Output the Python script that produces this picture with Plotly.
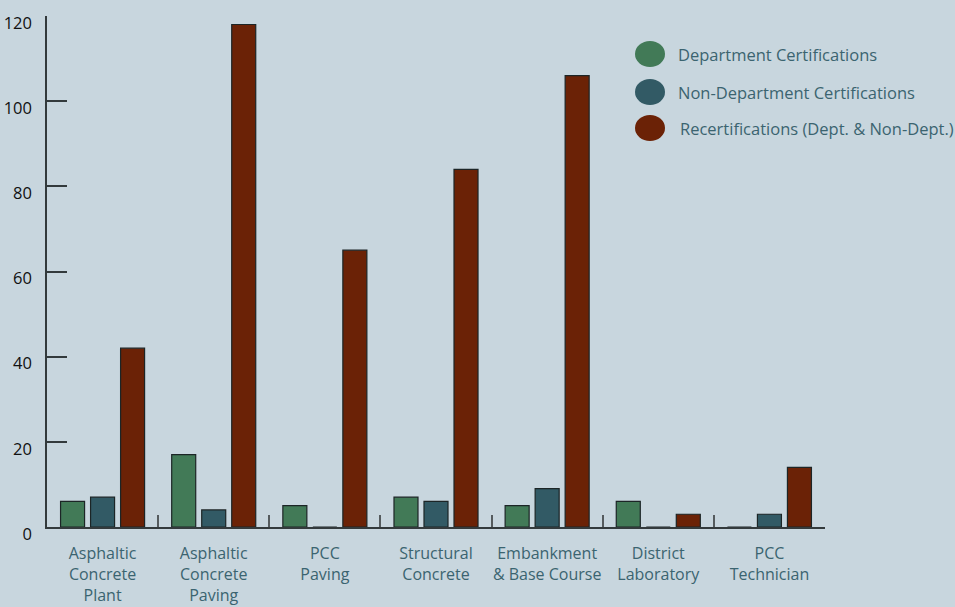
import plotly.graph_objects as go

categories = ["Asphaltic<br>Concrete<br>Plant", "Asphaltic<br>Concrete<br>Paving", "PCC<br>Paving",
              "Structural<br>Concrete", "Embankment<br>& Base Course", "District<br>Laboratory",
              "PCC<br>Technician"]
dept = [6, 17, 5, 7, 5, 6, 0]
non_dept = [7, 4, 0, 6, 9, 0, 3]
recert = [42, 118, 65, 84, 106, 3, 14]
series_names = ["Department Certifications", "Non-Department Certifications",
                "Recertifications (Dept. & Non-Dept.)"]
colors = ["#427a57", "#325a65", "#6b2206"]
ytick_vals = [0, 20, 40, 60, 80, 100, 120]

BG = "#c8d6de"
TXT = "#3b6470"
FONT = "Open Sans"

fig = go.Figure()
for name, vals, col in zip(series_names, [dept, non_dept, recert], colors):
    fig.add_trace(go.Bar(x=categories, y=vals, name=name, marker_color=col,
                         marker_line_color="#1c2526", marker_line_width=1.2,
                         showlegend=False))

fig.update_layout(
    width=955, height=607,
    paper_bgcolor=BG, plot_bgcolor=BG,
    margin=dict(l=47, r=130, t=16, b=80),
    barmode="group", bargap=0.19, bargroupgap=0.2,
    font=dict(family=FONT, size=15, color=TXT),
)
fig.update_xaxes(
    showline=True, linecolor="#333a3c", linewidth=1.5,
    ticks="inside", tickson="boundaries", ticklen=12, tickcolor="#555b5e", tickwidth=1.5,
    ticklabelstandoff=11, tickangle=0, automargin=False,
    tickfont=dict(family=FONT, size=16, color=TXT),
    showgrid=False, zeroline=False, fixedrange=True,
)
fig.update_yaxes(
    range=[0, 120], tickvals=ytick_vals,
    showline=True, linecolor="#333a3c", linewidth=1.5,
    ticks="inside", ticklen=20, tickcolor="#333a3c", tickwidth=1.5,
    ticklabelstandoff=10, ticklabelshift=7, ticklabeloverflow="allow", automargin=False,
    tickfont=dict(family=FONT, size=16.5, color="#111111"),
    showgrid=False, zeroline=False,
)

# manual legend with large round markers
leg_y = [54, 92, 128]
leg_x = [676, 676, 678]
for i, (name, col) in enumerate(zip(series_names, colors)):
    fig.add_shape(type="circle", xref="paper", yref="paper",
                  x0=(635 - 47) / 778, x1=(665 - 47) / 778,
                  y0=(607 - leg_y[i] - 13 - 80) / 511, y1=(607 - leg_y[i] + 13 - 80) / 511,
                  fillcolor=col, line_width=0)
    fig.add_annotation(xref="paper", yref="paper",
                       x=(leg_x[i] - 47) / 778, y=(607 - leg_y[i] - 80) / 511,
                       text=name, showarrow=False, xanchor="left", yanchor="middle",
                       font=dict(family=FONT, size=16.5, color=TXT))

fig.write_html("out.html")
